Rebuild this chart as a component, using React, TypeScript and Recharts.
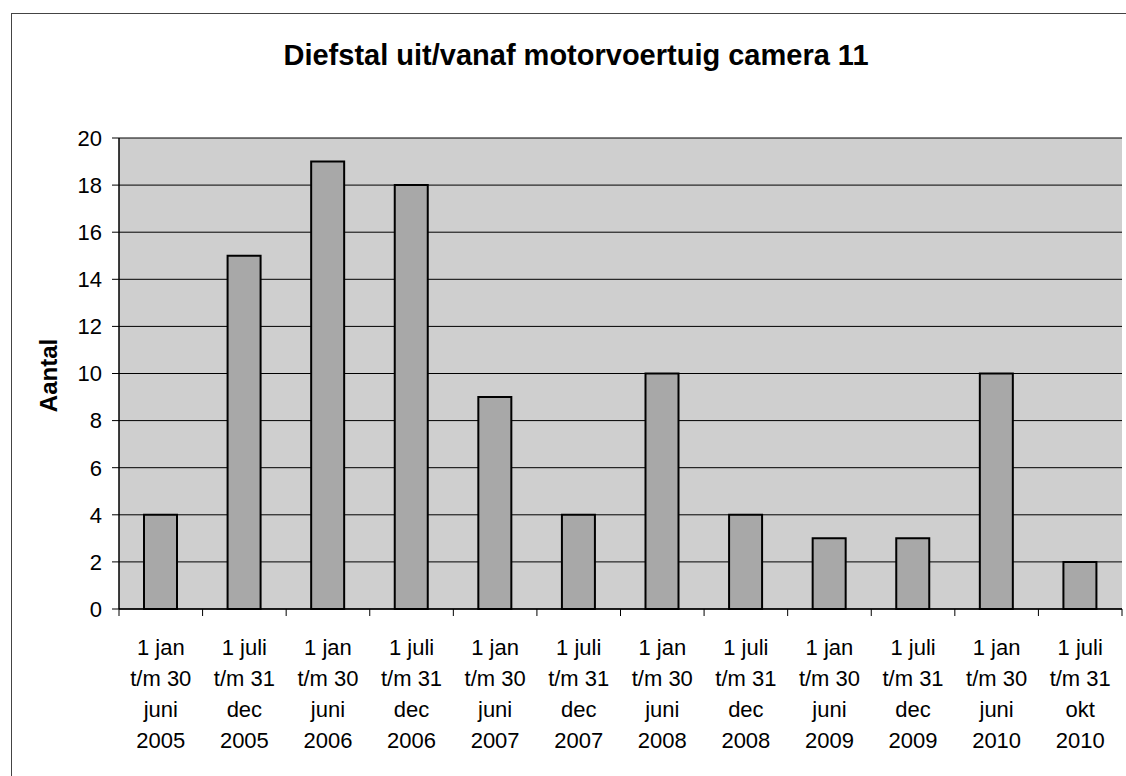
import { BarChart, Bar, XAxis, YAxis, CartesianGrid } from 'recharts'

const periodStart = [
  '1 jan', '1 juli', '1 jan', '1 juli', '1 jan', '1 juli',
  '1 jan', '1 juli', '1 jan', '1 juli', '1 jan', '1 juli'
]
const periodEnd = [
  't/m 30', 't/m 31', 't/m 30', 't/m 31', 't/m 30', 't/m 31',
  't/m 30', 't/m 31', 't/m 30', 't/m 31', 't/m 30', 't/m 31'
]
const periodMonth = [
  'juni', 'dec', 'juni', 'dec', 'juni', 'dec',
  'juni', 'dec', 'juni', 'dec', 'juni', 'okt'
]
const periodYear = [
  '2005', '2005', '2006', '2006', '2007', '2007',
  '2008', '2008', '2009', '2009', '2010', '2010'
]
const counts = [4, 15, 19, 18, 9, 4, 10, 4, 3, 3, 10, 2]
const yTicks = [0, 2, 4, 6, 8, 10, 12, 14, 16, 18, 20]

const data = counts.map((value, i) => ({
  name: `${periodStart[i]} ${periodEnd[i]} ${periodMonth[i]} ${periodYear[i]}`,
  lines: [periodStart[i], periodEnd[i], periodMonth[i], periodYear[i]],
  value
}))

const FONT = '"Liberation Sans", Arial, sans-serif'

// multi-line category label, tick marks drawn on the category boundaries
const PeriodTick = ({ x, y, width, index, visibleTicksCount, payload }: any) => {
  const step = width / visibleTicksCount
  const lines = data[index]?.lines ?? [payload.value]
  const top = y - 2
  return (
    <g>
      <line x1={x - step / 2} x2={x - step / 2} y1={top} y2={top + 7} stroke="#000" />
      {index === visibleTicksCount - 1 && (
        <line x1={x + step / 2} x2={x + step / 2} y1={top} y2={top + 7} stroke="#000" />
      )}
      <text x={x} y={top} textAnchor="middle" fill="#000" fontSize={22} fontFamily={FONT}>
        {lines.map((l: string, i: number) => (
          <tspan key={i} x={x} dy={i === 0 ? 46 : 31}>{l}</tspan>
        ))}
      </text>
    </g>
  )
}

const AxisTitle = ({ viewBox }: any) => {
  const cx = 45
  const cy = viewBox.y + viewBox.height / 2 + 2
  return (
    <text
      x={cx}
      y={cy}
      transform={`rotate(-90, ${cx}, ${cy})`}
      textAnchor="middle"
      fontSize={24}
      fontWeight="bold"
      fontFamily={FONT}
      fill="#000"
    >
      Aantal
    </text>
  )
}

export default function App() {
  return (
    <div style={{ position: 'fixed', left: 0, top: 0, width: 1126, height: 776, overflow: 'hidden', background: '#fff' }}>
      <div
        style={{
          position: 'absolute',
          left: 11,
          top: 13,
          width: 1128,
          height: 780,
          border: '1px solid #444',
          background: '#fff'
        }}
      >
        <div
          style={{
            position: 'absolute',
            left: 0,
            top: 27,
            width: 1128,
            textAlign: 'center',
            fontFamily: FONT,
            fontSize: 29,
            lineHeight: '29px',
            fontWeight: 'bold',
            color: '#000'
          }}
        >
          Diefstal uit/vanaf motorvoertuig camera 11
        </div>
        <BarChart
          width={1128}
          height={780}
          data={data}
          margin={{ top: 124, right: 18, left: 47, bottom: 45 }}
          barCategoryGap={0}
        >
          <CartesianGrid vertical={false} stroke="#000" fill="#cfcfcf" />
          <XAxis
            dataKey="name"
            interval={0}
            height={140}
            tickLine={false}
            tickSize={0}
            axisLine={{ stroke: '#000', strokeWidth: 1.5 }}
            tick={<PeriodTick />}
          />
          <YAxis
            domain={[0, 20]}
            ticks={yTicks}
            width={60}
            tickSize={7}
            tickMargin={10}
            interval={0}
            axisLine={{ stroke: '#000', strokeWidth: 1.5 }}
            tickLine={{ stroke: '#000' }}
            tick={{ fill: '#000', fontSize: 22, fontFamily: FONT }}
            label={<AxisTitle />}
          />
          <YAxis
            yAxisId="frame"
            orientation="right"
            width={0}
            tick={false}
            tickLine={false}
            axisLine={{ stroke: '#000', strokeWidth: 1.5 }}
          />
          <Bar
            dataKey="value"
            fill="#a8a8a8"
            stroke="#000"
            strokeWidth={2}
            barSize={33}
            isAnimationActive={false}
          />
        </BarChart>
      </div>
    </div>
  )
}
